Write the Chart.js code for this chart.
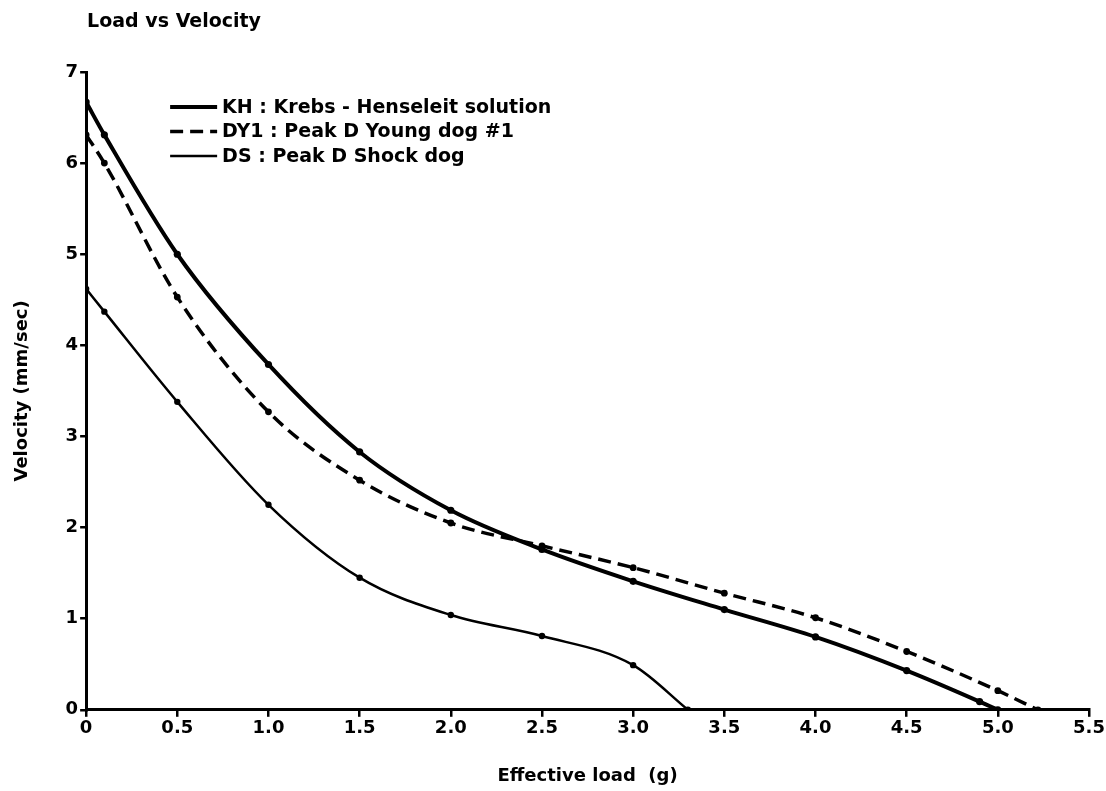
<!DOCTYPE html>
<html>
<head>
<meta charset="utf-8">
<script src="https://cdn.jsdelivr.net/npm/chart.js@4.4.1/dist/chart.umd.min.js"></script>
<style>
  html, body { margin: 0; padding: 0; background: #fff; }
  #wrap { width: 1106px; height: 791px; position: relative; }
</style>
</head>
<body>
<div id="wrap"><canvas id="loadChart"></canvas></div>
<script>
// Values
const khLoad = [0, 0.1, 0.5, 1.0, 1.5, 2.0, 2.5, 3.0, 3.5, 4.0, 4.5, 4.9, 5.0];
const khVelocity = [6.67, 6.31, 5.0, 3.79, 2.83, 2.19, 1.76, 1.41, 1.1, 0.8, 0.43, 0.09, 0];

const dy1Load = [0, 0.1, 0.5, 1.0, 1.5, 2.0, 2.5, 3.0, 3.5, 4.0, 4.5, 5.0, 5.22];
const dy1Velocity = [6.31, 6.0, 4.53, 3.27, 2.52, 2.05, 1.8, 1.56, 1.28, 1.01, 0.64, 0.21, 0];

const dsLoad = [0, 0.1, 0.5, 1.0, 1.5, 2.0, 2.5, 3.0, 3.3];
const dsVelocity = [4.62, 4.37, 3.38, 2.25, 1.45, 1.04, 0.81, 0.49, 0];

const seriesLabels = [
  "KH : Krebs - Henseleit solution",
  "DY1 : Peak D Young dog #1",
  "DS : Peak D Shock dog",
];

const xTicks = [0, 0.5, 1.0, 1.5, 2.0, 2.5, 3.0, 3.5, 4.0, 4.5, 5.0, 5.5];
const yTicks = [0, 1, 2, 3, 4, 5, 6, 7];

const FONT = "'DejaVu Sans', Arial, Helvetica, sans-serif";

function toPoints(xs, ys) {
  return xs.map(function (x, i) { return { x: x, y: ys[i] }; });
}

// title and in-plot legend, placed like the original figure
const figureText = {
  id: "figureText",
  afterDraw: function (chart) {
    const ctx = chart.ctx;
    const area = chart.chartArea;
    ctx.save();
    ctx.fillStyle = "#000";
    ctx.font = "bold 19px " + FONT;
    ctx.textBaseline = "middle";
    ctx.textAlign = "left";
    ctx.fillText("Load vs Velocity", area.left + 1, 22);

    chart.data.datasets.forEach(function (ds, i) {
      const y = area.top + 35 + i * 24.5;
      const x0 = area.left + 84;
      ctx.beginPath();
      ctx.strokeStyle = ds.borderColor;
      ctx.lineWidth = ds.borderWidth;
      ctx.setLineDash(ds.borderDash || []);
      ctx.moveTo(x0, y);
      ctx.lineTo(x0 + 47, y);
      ctx.stroke();
      ctx.setLineDash([]);
      ctx.fillText(ds.label, x0 + 52, y + 1);
    });
    ctx.restore();
  },
};

const ctx = document.getElementById("loadChart").getContext("2d");
const loadChart = new Chart(ctx, {
  type: "line",
  data: {
    datasets: [
      {
        label: seriesLabels[0],
        data: toPoints(khLoad, khVelocity),
        borderColor: "#000",
        backgroundColor: "#000",
        borderWidth: 4,
        pointRadius: 3.6,
        pointBorderWidth: 0,
        cubicInterpolationMode: "monotone",
      },
      {
        label: seriesLabels[1],
        data: toPoints(dy1Load, dy1Velocity),
        borderColor: "#000",
        backgroundColor: "#000",
        borderWidth: 3.5,
        borderDash: [13, 7],
        pointRadius: 3.4,
        pointBorderWidth: 0,
        cubicInterpolationMode: "monotone",
      },
      {
        label: seriesLabels[2],
        data: toPoints(dsLoad, dsVelocity),
        borderColor: "#000",
        backgroundColor: "#000",
        borderWidth: 2.5,
        pointRadius: 3.2,
        pointBorderWidth: 0,
        cubicInterpolationMode: "monotone",
      },
    ],
  },
  options: {
    responsive: true,
    maintainAspectRatio: false,
    animation: false,
    layout: {
      padding: { left: 12, right: 17, top: 72, bottom: 4 },
    },
    plugins: {
      legend: { display: false },
      tooltip: { enabled: false },
    },
    scales: {
      x: {
        type: "linear",
        min: 0,
        max: 5.5,
        afterBuildTicks: function (axis) {
          axis.ticks = xTicks.map(function (v) { return { value: v }; });
        },
        grid: {
          drawOnChartArea: false,
          drawTicks: true,
          tickLength: 7,
          color: "#000",
          lineWidth: 2.5,
        },
        border: { display: true, color: "#000", width: 3 },
        ticks: {
          color: "#000",
          padding: 1,
          maxRotation: 0,
          font: { family: FONT, size: 18, weight: "bold" },
          callback: function (v) { return v === 0 ? "0" : Number(v).toFixed(1); },
        },
        title: {
          display: true,
          text: "Effective load  (g)",
          color: "#000",
          padding: { top: 25, bottom: 0 },
          font: { family: FONT, size: 18, weight: "bold" },
        },
      },
      y: {
        type: "linear",
        min: 0,
        max: 7,
        afterBuildTicks: function (axis) {
          axis.ticks = yTicks.map(function (v) { return { value: v }; });
        },
        grid: {
          drawOnChartArea: false,
          drawTicks: true,
          tickLength: 6,
          color: "#000",
          lineWidth: 2.5,
        },
        border: { display: true, color: "#000", width: 3 },
        ticks: {
          color: "#000",
          padding: 2,
          font: { family: FONT, size: 18, weight: "bold" },
        },
        title: {
          display: true,
          text: "Velocity (mm/sec)",
          color: "#000",
          padding: { top: 0, bottom: 30 },
          font: { family: FONT, size: 18, weight: "bold" },
        },
      },
    },
  },
  plugins: [figureText],
});
</script>
</body>
</html>
